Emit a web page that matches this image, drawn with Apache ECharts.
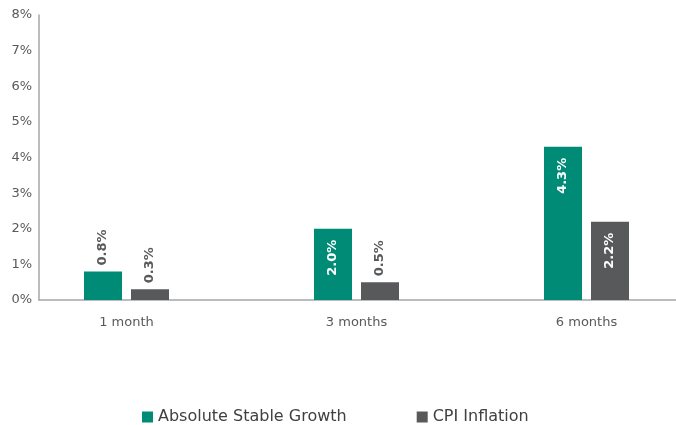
<!DOCTYPE html>
<html>
<head>
<meta charset="utf-8">
<script src="https://cdn.jsdelivr.net/npm/echarts@6/dist/echarts.min.js"></script>
<style>html,body{margin:0;padding:0;background:#fff}#c{width:676px;height:425px}</style>
</head>
<body>
<div id="c"></div>
<script>
const categories = ['1 month', '3 months', '6 months'];
const seriesNames = ['Absolute Stable Growth', 'CPI Inflation'];
const absoluteStableGrowth = [0.8, 2.0, 4.3];
const cpiInflation = [0.3, 0.5, 2.2];
const yTicks = [0, 1, 2, 3, 4, 5, 6, 7, 8];

const GREEN = '#008b76';
const GREY = '#58595b';
const TEXT = '#595959';
const FONT = 'DejaVu Sans';

function dataWithLabels(values, threshold) {
  return values.map(v => {
    const inside = v >= threshold;
    return {
      value: v,
      label: inside ? {
        position: 'insideTop', distance: 11, color: '#ffffff', align: 'right'
      } : {
        position: 'top', distance: 6, color: GREY, align: 'left'
      }
    };
  });
}

const chart = echarts.init(document.getElementById('c'), null, {renderer: 'canvas'});
const baseLabel = {
  show: true, rotate: 90, verticalAlign: 'middle', fontFamily: FONT,
  fontWeight: 'bold', fontSize: 13,
  formatter: p => p.value.toFixed(1) + '%'
};
chart.setOption({
  animation: false,
  textStyle: {fontFamily: FONT},
  grid: [
    {left: 11.5, width: 690, top: 15, height: 285, outerBoundsMode: 'none', containLabel: false},
    {left: 39, right: 0, top: 15, height: 285, outerBoundsMode: 'none', containLabel: false}
  ],
  xAxis: [
    {gridIndex: 0, type: 'category', data: categories,
     axisLine: {show: false}, axisTick: {show: false},
     axisLabel: {color: TEXT, fontSize: 13, margin: 16, fontFamily: FONT}},
    {gridIndex: 1, type: 'value', min: 0, max: 1,
     axisLine: {show: true, lineStyle: {color: '#a6a6a6', width: 1.5}},
     axisTick: {show: false}, axisLabel: {show: false}, splitLine: {show: false}}
  ],
  yAxis: [
    {gridIndex: 0, type: 'value', min: 0, max: 8, show: false},
    {gridIndex: 1, type: 'value', min: yTicks[0], max: yTicks[yTicks.length - 1], interval: 1,
     axisLine: {show: true, lineStyle: {color: '#a6a6a6', width: 1.5}},
     axisTick: {show: false}, splitLine: {show: false},
     axisLabel: {color: TEXT, fontSize: 13, margin: 7, fontFamily: FONT, formatter: '{value}%'}}
  ],
  legend: {
    data: seriesNames, left: 142, top: 409, padding: 0, itemWidth: 11, itemHeight: 11, itemGap: 70,
    icon: 'rect', textStyle: {color: '#404040', fontSize: 16, fontFamily: FONT}
  },
  series: [
    {name: seriesNames[0], type: 'bar', xAxisIndex: 0, yAxisIndex: 0,
     barWidth: 38, barGap: '23.7%', itemStyle: {color: GREEN},
     label: baseLabel, data: dataWithLabels(absoluteStableGrowth, 1.5)},
    {name: seriesNames[1], type: 'bar', xAxisIndex: 0, yAxisIndex: 0,
     barWidth: 38, barGap: '23.7%', itemStyle: {color: GREY},
     label: baseLabel, data: dataWithLabels(cpiInflation, 1.5)}
  ]
});
</script>
</body>
</html>
